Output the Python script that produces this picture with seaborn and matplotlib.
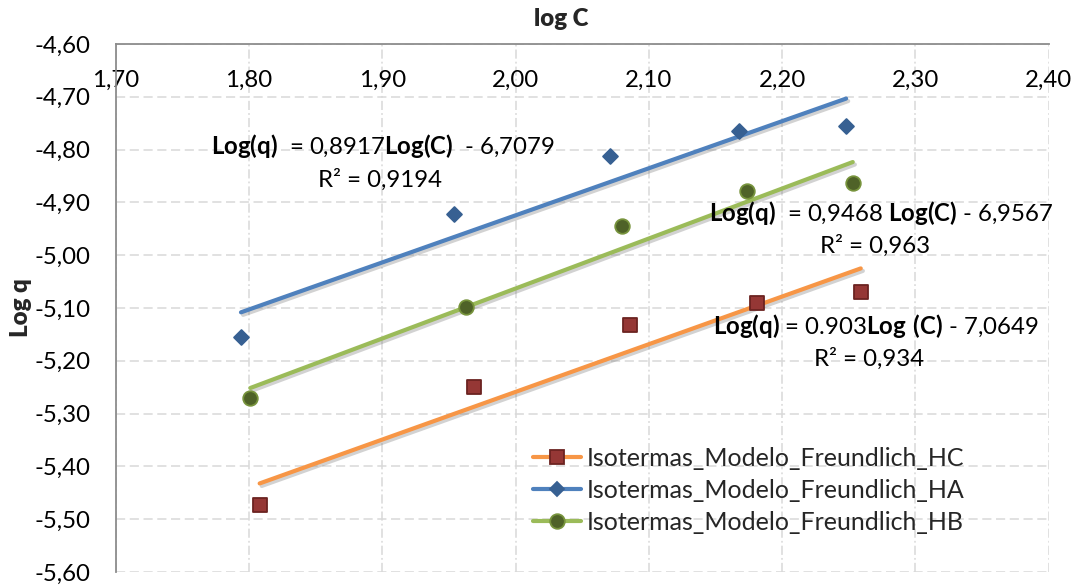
import matplotlib
matplotlib.use("Agg")
import matplotlib.pyplot as plt
import matplotlib.patheffects as pe
from matplotlib.lines import Line2D
from matplotlib.ticker import FixedLocator, FuncFormatter
import seaborn as sns

# ---- data -------------------------------------------------------------
series_names = [
    "Isotermas_Modelo_Freundlich_HC",
    "Isotermas_Modelo_Freundlich_HA",
    "Isotermas_Modelo_Freundlich_HB",
]

log_c_hc = [1.808, 1.969, 2.086, 2.181, 2.259]
log_q_hc = [-5.474, -5.250, -5.132, -5.091, -5.069]

log_c_ha = [1.794, 1.954, 2.071, 2.168, 2.248]
log_q_ha = [-5.154, -4.922, -4.812, -4.764, -4.755]

log_c_hb = [1.801, 1.963, 2.080, 2.174, 2.253]
log_q_hb = [-5.271, -5.098, -4.945, -4.878, -4.864]

# linear Freundlich fits: Log(q) = slope * Log(C) + intercept
slopes = [0.903, 0.8917, 0.9468]
intercepts = [-7.0649, -6.7079, -6.9567]

x_ticks = [1.70, 1.80, 1.90, 2.00, 2.10, 2.20, 2.30, 2.40]
y_ticks = [-4.60, -4.70, -4.80, -4.90, -5.00, -5.10, -5.20, -5.30, -5.40, -5.50, -5.60]

# ---- style ------------------------------------------------------------
sns.set_theme(style="white")
plt.rcParams["font.family"] = ["Lato", "DejaVu Sans"]
plt.rcParams["mathtext.fontset"] = "custom"
plt.rcParams["mathtext.rm"] = "Lato"
plt.rcParams["mathtext.bf"] = "Lato:bold"

FS = 17.3
FS_LEG = 18
line_colors = ["#F79646", "#4F81BD", "#9BBB59"]
marker_face = ["#953735", "#376092", "#4F6228"]
marker_edge = ["#6B2321", "#376092", "#77933C"]
markers = ["s", "D", "o"]
marker_sizes = [10.5, 7.6, 10.5]

fig = plt.figure(figsize=(10.76, 5.85), dpi=100)
ax = fig.add_axes([115.7 / 1076, 1 - 572 / 585, (1048.7 - 115.7) / 1076, (572 - 44) / 585])

xs = [log_c_hc, log_c_ha, log_c_hb]
ys = [log_q_hc, log_q_ha, log_q_hb]

shadow = [pe.SimpleLineShadow(offset=(1.5, -1.8), shadow_color="#7F7F7F", alpha=0.35), pe.Normal()]

for i in range(3):
    x0, x1 = min(xs[i]), max(xs[i])
    fit_x = [x0, x1]
    fit_y = [slopes[i] * x0 + intercepts[i], slopes[i] * x1 + intercepts[i]]
    sns.lineplot(x=fit_x, y=fit_y, ax=ax, color=line_colors[i], linewidth=3.0,
                 legend=False, zorder=3, path_effects=shadow)

for i in range(3):
    sns.scatterplot(x=xs[i], y=ys[i], ax=ax, marker=markers[i],
                    s=marker_sizes[i] ** 2, color=marker_face[i],
                    edgecolor=marker_edge[i], linewidth=1.3, zorder=4, legend=False)

# ---- axes -------------------------------------------------------------
ax.set_xlim(1.70, 2.40)
ax.set_ylim(-5.60, -4.60)
ax.xaxis.set_major_locator(FixedLocator(x_ticks))
ax.yaxis.set_major_locator(FixedLocator(y_ticks))
comma = FuncFormatter(lambda v, p: f"{v:.2f}".replace(".", ","))
ax.xaxis.set_major_formatter(comma)
ax.yaxis.set_major_formatter(comma)

ax.xaxis.tick_top()
ax.xaxis.set_label_position("top")
ax.tick_params(axis="x", length=0, pad=-34, labelsize=FS, colors="black")
ax.tick_params(axis="y", length=0, pad=18, labelsize=FS, colors="black")

ax.grid(True, axis="y", color="#D9D9D9", linewidth=1.1, dashes=(6, 3))
ax.grid(True, axis="x", color="#D9D9D9", linewidth=1.1, dashes=(6, 2, 1.2, 2))
ax.set_axisbelow(True)

for side in ("bottom", "right"):
    ax.spines[side].set_visible(False)
for side in ("top", "left"):
    ax.spines[side].set_color("#8C8C8C")
    ax.spines[side].set_linewidth(1.3)

ax.set_xlabel("log C", fontsize=FS, fontweight="heavy")
ax.xaxis.set_label_coords(0.477, 1.047)
ax.xaxis.label.set_va("center")
ax.set_ylabel("Log q", fontsize=FS, fontweight="heavy")
ax.yaxis.set_label_coords(-0.102, 0.5)
ax.yaxis.label.set_va("center")

# ---- trendline equations ----------------------------------------------
eq_kw = dict(fontsize=FS, color="black", zorder=6, va="center")
ax.text(1.7714, -4.793, r"$\mathbf{Log(q)}$  = 0,8917$\mathbf{Log(C)}$  - 6,7079", ha="left", **eq_kw)
ax.text(1.898, -4.8576, "R² = 0,9194", ha="center", **eq_kw)

ax.text(2.1448, -4.920, r"$\mathbf{Log(q)}$  = 0,9468 $\mathbf{Log(C)}$ - 6,9567", ha="left", **eq_kw)
ax.text(2.270, -4.9826, "R² = 0,963", ha="center", **eq_kw)

ax.text(2.1478, -5.134, r"$\mathbf{Log(q)}$ = 0.903$\mathbf{Log\ (C)}$ - 7,0649", ha="left", **eq_kw)
ax.text(2.2655, -5.1966, "R² = 0,934", ha="center", **eq_kw)

# ---- legend -----------------------------------------------------------
handles = [
    Line2D([], [], color=line_colors[i], linewidth=3.0, marker=markers[i],
           markersize=marker_sizes[i], markerfacecolor=marker_face[i],
           markeredgecolor=marker_edge[i], markeredgewidth=1.3)
    for i in range(3)
]
fig.legend(handles, series_names, loc="upper left",
           bbox_to_anchor=(533 / 1076, 1 - 447 / 585), bbox_transform=fig.transFigure,
           frameon=False, fontsize=FS_LEG, handlelength=1.9, handletextpad=0.25,
           labelspacing=0.36, borderpad=0, borderaxespad=0, numpoints=1)

fig.savefig("out.png", dpi=100)
